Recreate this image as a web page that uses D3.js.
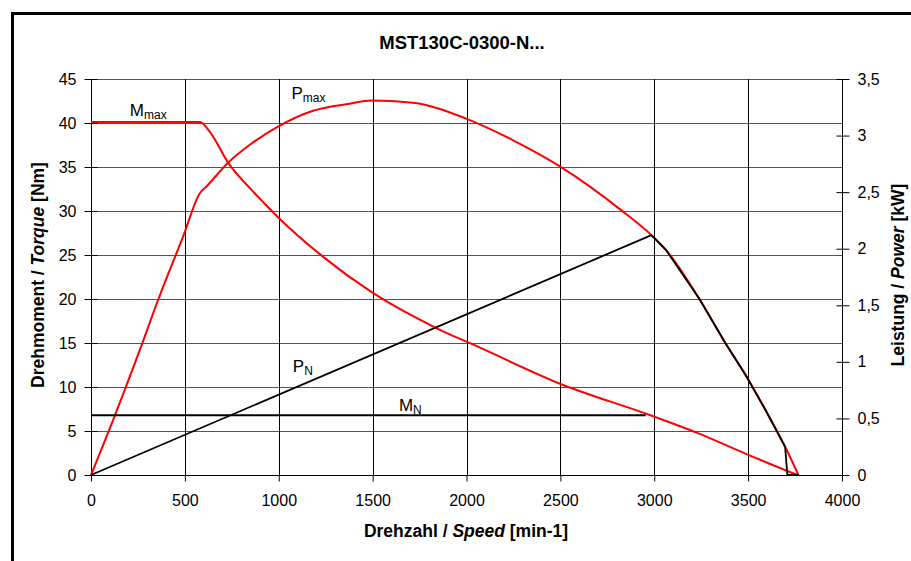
<!DOCTYPE html>
<html>
<head>
<meta charset="utf-8">
<script src="https://cdn.jsdelivr.net/npm/d3@7/dist/d3.min.js"></script>
<style>
  body { margin: 0; background: #fff; }
  text { font-family: Arial, "Liberation Sans", sans-serif; }
</style>
</head>
<body>
<script>
  // speed [min-1] / torque [Nm] / power [kW]
  var mmaxSpeed  = [0, 580, 633, 730, 855, 996, 1230, 1493, 1839, 2069, 2495, 2991, 3239, 3488, 3762];
  var mmaxTorque = [40.1, 40.1, 39.0, 35.5, 32.4, 29.3, 24.9, 20.8, 16.7, 14.5, 10.4, 6.7, 4.7, 2.4, 0];

  var pmaxSpeed = [0, 128, 270, 358, 491, 580, 615, 730, 855, 996, 1183, 1369, 1493, 1714, 1998, 2246, 2495, 2832, 2985, 3062, 3239, 3381, 3488, 3594, 3697, 3768];
  var pmaxPower = [0, 0.53, 1.15, 1.55, 2.11, 2.49, 2.55, 2.76, 2.93, 3.08, 3.22, 3.28, 3.31, 3.29, 3.15, 2.96, 2.73, 2.33, 2.12, 1.99, 1.56, 1.16, 0.88, 0.57, 0.25, 0];

  var pnSpeed = [0, 2985, 3062, 3239, 3381, 3488, 3594, 3697, 3709, 3768];
  var pnPower = [0, 2.12, 1.99, 1.56, 1.16, 0.88, 0.57, 0.25, 0, 0];

  var mnSpeed  = [0, 2955];
  var mnTorque = [6.8, 6.8];

  var speedTicks  = [0, 500, 1000, 1500, 2000, 2500, 3000, 3500, 4000];
  var torqueTicks = [0, 5, 10, 15, 20, 25, 30, 35, 40, 45];
  var powerTicks  = [0, 0.5, 1, 1.5, 2, 2.5, 3, 3.5];

  var W = 911, H = 561;
  var svg = d3.select("body").append("svg")
    .attr("width", W).attr("height", H);

  // outer frame
  svg.append("rect")
    .attr("x", 12.5).attr("y", 13.5)
    .attr("width", 1000).attr("height", 700)
    .style("fill", "none").style("stroke", "#000").style("stroke-width", 3);

  var x = d3.scaleLinear().domain([0, 4000]).range([91, 842]);
  var y = d3.scaleLinear().domain([0, 45]).range([475, 79]);
  var yP = d3.scaleLinear().domain([0, 3.5]).range([475, 79]);

  // grid
  svg.append("g").selectAll("line").data(torqueTicks).enter().append("line")
    .attr("x1", x(0)).attr("x2", x(4000))
    .attr("y1", function(d){ return Math.round(y(d)) + 0.5; })
    .attr("y2", function(d){ return Math.round(y(d)) + 0.5; })
    .style("stroke", function(d){ return d == 0 ? "#000" : "#555"; })
    .style("stroke-width", 1);

  svg.append("g").selectAll("line").data(speedTicks.slice(1, -1)).enter().append("line")
    .attr("x1", function(d){ return Math.round(x(d)) + 0.5; })
    .attr("x2", function(d){ return Math.round(x(d)) + 0.5; })
    .attr("y1", y(45)).attr("y2", y(0))
    .style("stroke", "#000").style("stroke-width", 1);

  // axes
  var fmt = d3.format(".1~f");
  var axL = svg.append("g").attr("transform", "translate(" + (x(0) + 0.5) + ",0)")
    .call(d3.axisLeft(y).tickValues(torqueTicks).tickSize(7).tickPadding(8));
  var axR = svg.append("g").attr("transform", "translate(" + (x(4000) + 0.5) + ",0)")
    .call(d3.axisRight(yP).tickValues(powerTicks).tickSize(7).tickPadding(8)
      .tickFormat(function(d){ return fmt(d).replace(".", ","); }));
  var axB = svg.append("g").attr("transform", "translate(0," + (y(0) + 0.5) + ")")
    .call(d3.axisBottom(x).tickValues(speedTicks).tickSize(6).tickPadding(13)
      .tickFormat(d3.format("d")));

  [axL, axR, axB].forEach(function(a){
    a.select(".domain").remove();
    a.selectAll("text").style("font-size", "16px").style("fill", "#000")
      .style("font-family", "Arial, 'Liberation Sans', sans-serif");
    a.selectAll("line").style("stroke", "#000");
  });
  // ticks cross the vertical axes
  axL.selectAll(".tick line").attr("x1", 6);
  axR.selectAll(".tick line").attr("x1", -6);

  svg.append("line").attr("x1", x(0) + 0.5).attr("x2", x(0) + 0.5)
    .attr("y1", y(45)).attr("y2", y(0)).style("stroke", "#000");
  svg.append("line").attr("x1", x(4000) + 0.5).attr("x2", x(4000) + 0.5)
    .attr("y1", y(45)).attr("y2", y(0)).style("stroke", "#000");

  // curves
  var lineT = d3.line().curve(d3.curveMonotoneX)
    .x(function(d){ return x(d[0]); }).y(function(d){ return y(d[1]); });
  var lineP = d3.line().curve(d3.curveMonotoneX)
    .x(function(d){ return x(d[0]); }).y(function(d){ return yP(d[1]); });
  var lineStraight = d3.line()
    .x(function(d){ return x(d[0]); }).y(function(d){ return yP(d[1]); });

  svg.append("path").datum(d3.zip(pmaxSpeed, pmaxPower)).attr("d", lineP)
    .style("fill", "none").style("stroke", "#ff0000").style("stroke-width", 2);
  svg.append("path").datum(d3.zip(mmaxSpeed, mmaxTorque)).attr("d", lineT)
    .style("fill", "none").style("stroke", "#ff0000").style("stroke-width", 2);
  svg.append("path").datum(d3.zip(mnSpeed, mnTorque)).attr("d", lineT)
    .style("fill", "none").style("stroke", "#000").style("stroke-width", 2);
  svg.append("path").datum(d3.zip(pnSpeed, pnPower)).attr("d", lineStraight)
    .style("fill", "none").style("stroke", "#000").style("stroke-width", 1.8);

  // curve labels
  var labels = [
    { main: "M", sub: "max", s: 207, t: 40.8 },
    { main: "P", sub: "max", s: 1068, t: 42.7 },
    { main: "P", sub: "N", s: 1075, t: 11.7 },
    { main: "M", sub: "N", s: 1640, t: 7.3 }
  ];
  labels.forEach(function(l){
    var t = svg.append("text").attr("x", x(l.s)).attr("y", y(l.t))
      .style("font-size", "17px").style("fill", "#000");
    t.append("tspan").text(l.main);
    t.append("tspan").attr("dy", 3).style("font-size", "12px").text(l.sub);
  });

  // title and axis titles
  svg.append("text").attr("x", 462).attr("y", 49).attr("text-anchor", "middle")
    .style("font-size", "18.5px").style("font-weight", "bold").text("MST130C-0300-N...");

  var xt = svg.append("text").attr("x", 466).attr("y", 537).attr("text-anchor", "middle")
    .style("font-size", "17.5px").style("font-weight", "bold");
  xt.append("tspan").text("Drehzahl / ");
  xt.append("tspan").style("font-style", "italic").text("Speed");
  xt.append("tspan").text(" [min-1]");

  var lt = svg.append("text").attr("transform", "translate(44,275) rotate(-90)")
    .attr("text-anchor", "middle").style("font-size", "17.5px").style("font-weight", "bold");
  lt.append("tspan").text("Drehmoment / ");
  lt.append("tspan").style("font-style", "italic").text("Torque");
  lt.append("tspan").text(" [Nm]");

  var rt = svg.append("text").attr("transform", "translate(904,275) rotate(-90)")
    .attr("text-anchor", "middle").style("font-size", "17.5px").style("font-weight", "bold");
  rt.append("tspan").text("Leistung / ");
  rt.append("tspan").style("font-style", "italic").text("Power");
  rt.append("tspan").text(" [kW]");
</script>
</body>
</html>
